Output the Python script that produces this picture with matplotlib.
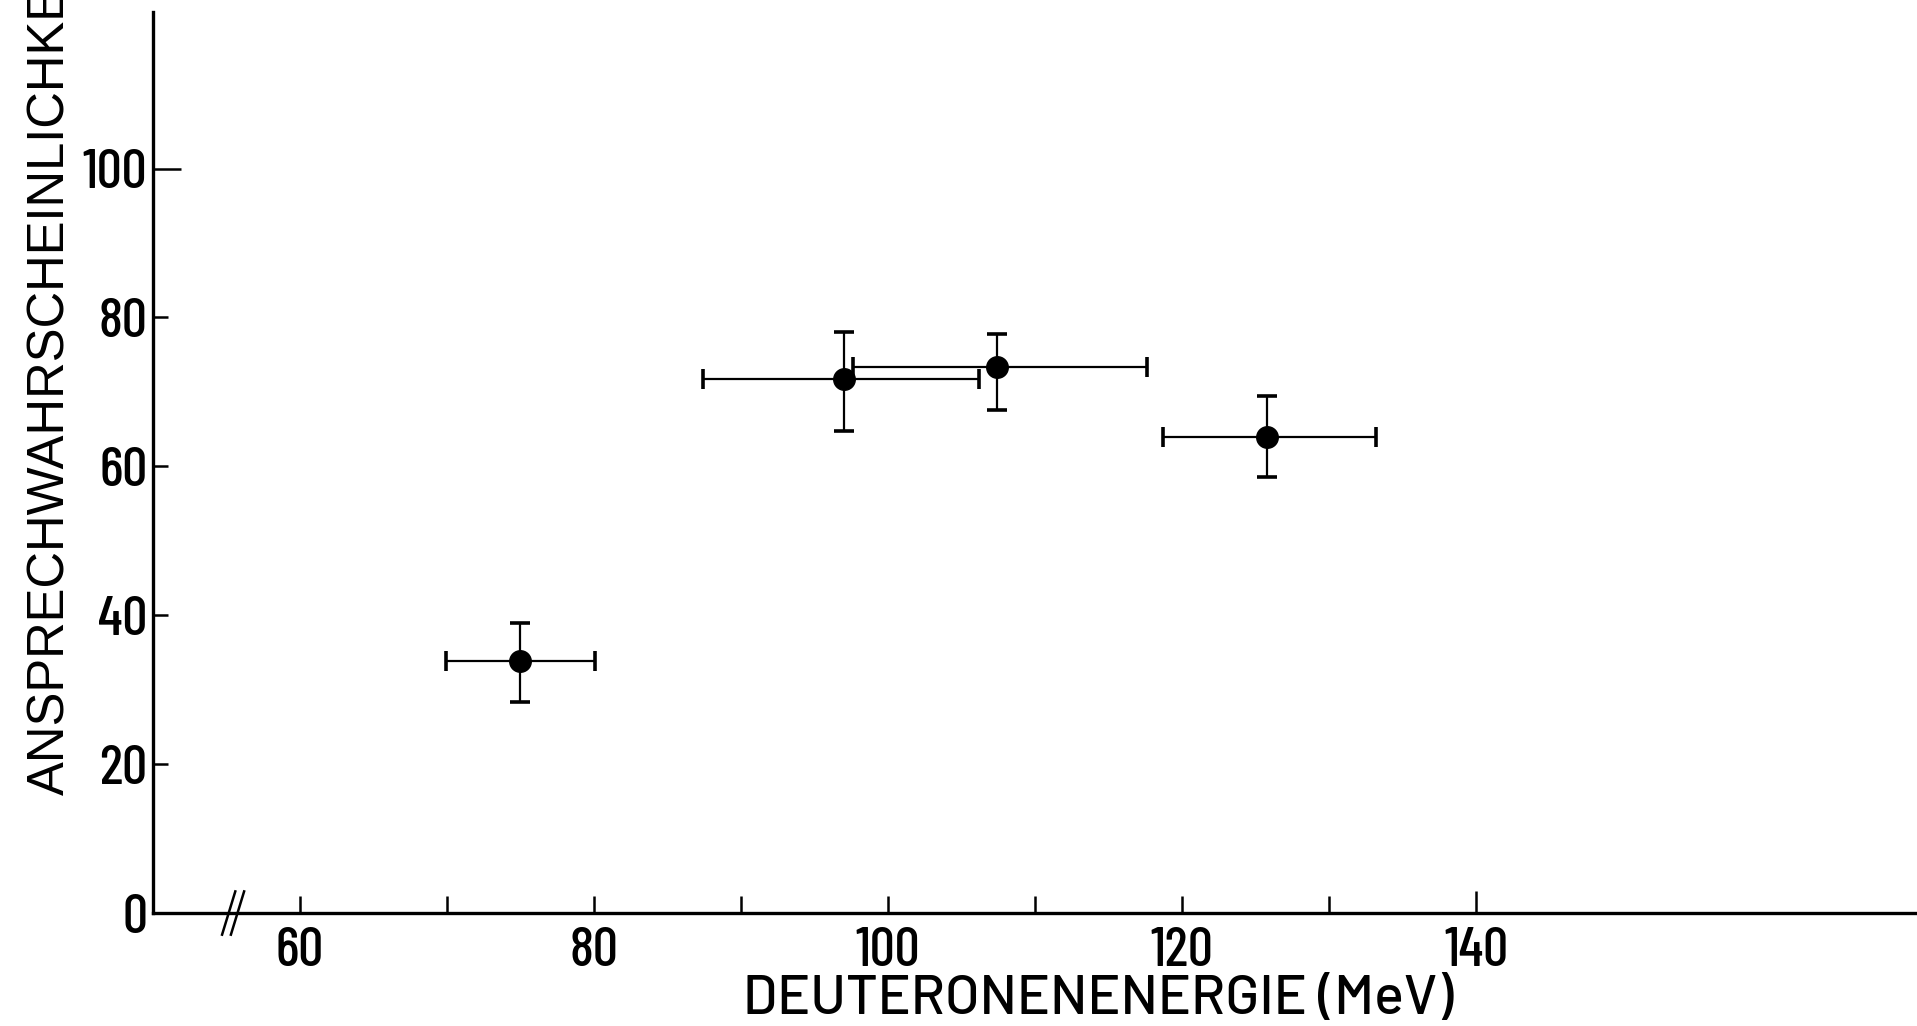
import matplotlib
matplotlib.use("Agg")
import matplotlib.pyplot as plt
import numpy as np

# ---- data ----
energy = [75.0, 97.0, 107.4, 125.8]
energy_err_low = [5.1, 9.6, 9.8, 7.1]
energy_err_high = [5.1, 9.2, 10.2, 7.4]
efficiency = [33.9, 71.7, 73.3, 63.9]
eff_err_low = [5.6, 6.9, 5.7, 5.3]
eff_err_high = [5.1, 6.4, 4.5, 5.5]

x_major_ticks = [60, 70, 80, 90, 100, 110, 120, 130, 140]
x_tick_labels = ["60", "", "80", "", "100", "", "120", "", "140"]
y_ticks = [0, 20, 40, 60, 80, 100]
y_tick_labels = ["0", "20", "40", "60", "80", "100"]
x_break = 55.4

xlabel = "DEUTERONENENERGIE (MeV)"
ylabel = "ANSPRECHWAHRSCHEINLICHKEIT"

narrow = ["Barlow Condensed", "Roboto Condensed", "PT Sans Narrow",
          "IBM Plex Sans Condensed", "DejaVu Sans"]
normal = ["Barlow", "Barlow Semi Condensed", "DejaVu Sans"]
wide = ["Liberation Sans", "DejaVu Sans"]

fig = plt.figure(figsize=(19.17, 10.26), dpi=100)
ax = fig.add_axes([0.0798, 0.1101, 0.9202, 0.878])

ax.errorbar(energy, efficiency,
            xerr=[energy_err_low, energy_err_high],
            yerr=[eff_err_low, eff_err_high],
            fmt="o", color="black", markersize=15.5, elinewidth=1.6,
            capsize=7, capthick=2.6, clip_on=False, zorder=3)

ax.set_xlim(50, 170)
ax.set_ylim(0, 121)

for s in ["top", "right"]:
    ax.spines[s].set_visible(False)
for s in ["left", "bottom"]:
    ax.spines[s].set_linewidth(2.4)

ax.set_xticks(x_major_ticks)
ax.set_xticklabels(x_tick_labels, family=narrow, fontsize=40, fontweight="medium")
ax.set_yticks(y_ticks)
ax.set_yticklabels(y_tick_labels, family=narrow, fontsize=40, fontweight="medium")
ax.tick_params(axis="x", direction="in", length=12.5, width=1.8, pad=10)
ax.tick_params(axis="y", direction="in", length=11, width=1.8, pad=4)
ax.yaxis.get_major_ticks()[-1].tick1line.set_markersize(20)
ax.xaxis.get_major_ticks()[-1].tick1line.set_markersize(16)

# axis break marks "//"
tr = ax.get_xaxis_transform()
for dx in (-0.25, 0.35):
    ax.plot([x_break + dx - 0.45, x_break + dx + 0.45], [-0.024, 0.024],
            transform=tr, color="black", lw=1.8, clip_on=False)

fig.text(0.5728, 0.025, xlabel, family=normal, fontsize=40, fontweight="medium",
         ha="center", va="center")
fig.text(0.0265, 0.225, ylabel, family=wide, fontsize=36.5,
         rotation=90, ha="center", va="bottom")

fig.savefig("out.png", dpi=100)
